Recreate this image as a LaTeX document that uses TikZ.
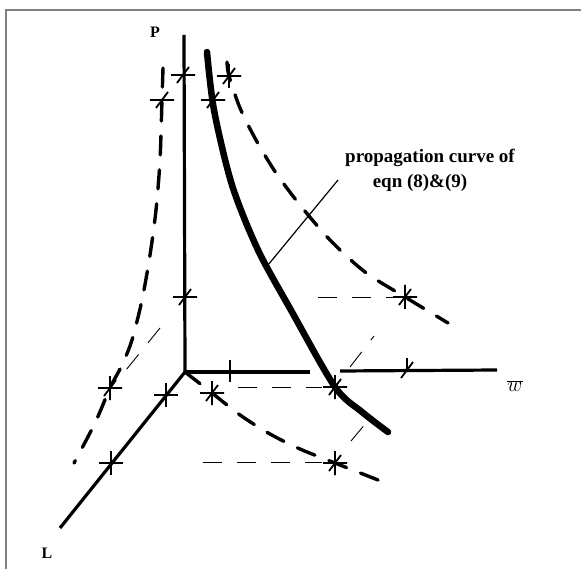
\documentclass[tikz,border=0pt]{standalone}
\usepackage{fontspec}
\setmainfont{Liberation Serif}
\usepackage{tikz}

\tikzset{
  starmark/.pic={\draw[line width=1.8pt] (-12,0) -- (12,0) (0,-12) -- (0,12) (-6,8) -- (6,-8);},
  hdtick/.pic={\draw[line width=1.8pt] (-12,0) -- (12,0) (-6,8) -- (6,-8);},
  vdtick/.pic={\draw[line width=1.8pt] (0,-12) -- (0,2) (-6,8) -- (6,-8);},
  vtick/.pic={\draw[line width=1.8pt] (0,-12) -- (0,10);},
  crosstick/.pic={\draw[line width=1.8pt] (-12,0) -- (12,0) (0,-12) -- (0,12);}
}

\begin{document}
\begin{tikzpicture}[x=1pt,y=-1pt,
  axis/.style={line width=3.2pt},
  proj/.style={line width=3.4pt,dash pattern=on 19pt off 15pt,line cap=round},
  guide/.style={line width=0.9pt,dash pattern=on 19pt off 15pt},
  propcurve/.style={line width=6.5pt,line cap=round}]

\useasboundingbox (0,0) rectangle (581,569);

% frame
\draw[gray,line width=1.5pt] (6,569) -- (6,10) -- (581,10);

% axes
\coordinate (O) at (185,372);
\coordinate (Ptop) at (184,35);
\coordinate (Wend) at (497,370);
\coordinate (Lend) at (60,528);
\draw[axis] (Ptop) -- (O) -- (Lend);
\draw[axis] (O) -- (310,372);
\draw[axis] (340,371) -- (Wend);

\node[font=\bfseries\fontsize{16}{16}\selectfont] (plabel) at (155,32) {P};
\node[font=\bfseries\fontsize{16}{16}\selectfont] (llabel) at (47,553) {L};
\node[font=\fontsize{20}{20}\selectfont] (wlabel) at (515,386) {$\overline{w}$};

% axis ticks
\pic at (185,297) {hdtick};
\pic at (183,75) {hdtick};
\pic at (230,372) {vtick};
\pic at (407,370) {vdtick};
\pic at (166,395) {crosstick};
\pic at (111,463) {crosstick};

% projections of the curve
\draw[proj] plot[smooth] coordinates {(163,68) (162,100) (160,160) (156,210) (150,255) (142,300) (132,340) (122,365) (110,388) (95,423) (74,463)};
\draw[proj] plot[smooth] coordinates {(227,62) (229,76) (240,108) (256,140) (276,173) (300,205) (330,240) (365,272) (405,297) (448,323)};
\draw[proj] plot[smooth] coordinates {(185,372) (212,393) (240,415) (270,434) (300,449) (335,463) (378,480)};

% construction lines
\draw[guide] (318,297) -- (395,297);
\draw[guide] (238,387) -- (322,387);
\draw[guide] (203,462) -- (322,462);
\draw[guide] (160,328) -- (126,370);
\draw[guide] (350,367) -- (374,336);
\draw[guide] (351,441) -- (366,423);

% propagation curve
\draw[propcurve] plot[smooth] coordinates {(207,52) (214,110) (232,185) (258,250) (292,312) (335,387) (362,412) (388,432)};

% marks on the curves
\pic at (213,100) {hdtick};
\pic at (162,100) {hdtick};
\pic at (229,76) {starmark};
\pic at (212,393) {starmark};
\pic at (335,387) {starmark};
\pic at (405,297) {starmark};
\pic at (110,388) {starmark};
\pic at (335,463) {starmark};

% label with leader
\coordinate (lead1) at (268,265);
\coordinate (lead2) at (338,180);
\draw[line width=1.2pt] (lead1) -- (lead2);
\node[anchor=base,font=\bfseries\fontsize{19}{19}\selectfont] (note1) at (430,163) {propagation curve of};
\node[anchor=base,font=\bfseries\fontsize{19}{19}\selectfont] (note2) at (420,188) {eqn (8)\&(9)};

\end{tikzpicture}
\end{document}
